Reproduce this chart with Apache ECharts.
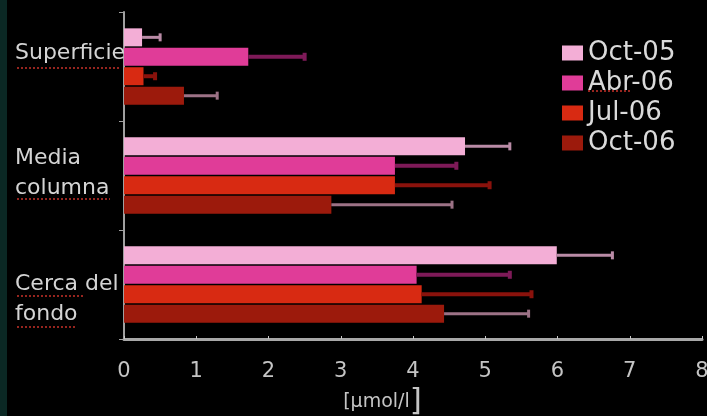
<!DOCTYPE html>
<html>
<head>
<meta charset="utf-8">
<script src="https://cdn.jsdelivr.net/npm/echarts@6/dist/echarts.min.js"></script>
<style>
html,body{margin:0;padding:0;background:#000;}
#chart{width:707px;height:416px;}
</style>
</head>
<body>
<div id="chart"></div>
<script>
// ---- data ----
const categories = ['Superficie', 'Media\ncolumna', 'Cerca del\nfondo'];
const seasons = ['Oct-05', 'Abr-06', 'Jul-06', 'Oct-06'];
const oct05 = [0.25, 4.72, 5.99];
const abr06 = [1.72, 3.75, 4.05];
const jul06 = [0.27, 3.75, 4.12];
const oct06 = [0.83, 2.87, 4.43];
const oct05Sd = [0.25, 0.62, 0.77];
const abr06Sd = [0.78, 0.85, 1.29];
const jul06Sd = [0.16, 1.31, 1.52];
const oct06Sd = [0.46, 1.67, 1.17];
const xTicks = ['0', '1', '2', '3', '4', '5', '6', '7', '8'];

const values = [oct05, abr06, jul06, oct06];
const sds = [oct05Sd, abr06Sd, jul06Sd, oct06Sd];
const barColors = ['#f3aed6', '#e03c98', '#d82a12', '#9c1a0c'];
const errColors = ['#b98ba6', '#7e1a58', '#8a120c', '#9c7286'];
const errWidths = [3, 4, 4, 3];
const BAR_W = 18, GAP = 0.08;
const FONT = '"DejaVu Sans", sans-serif';

const chart = echarts.init(document.getElementById('chart'), null, {renderer: 'canvas'});

const series = [];
seasons.forEach((s, k) => {
  series.push({
    name: s, type: 'bar', data: values[k],
    barWidth: BAR_W, barGap: (GAP * 100) + '%',
    itemStyle: {color: barColors[k]},
    z: 2
  });
});
seasons.forEach((s, k) => {
  const offset = (k - 1.5) * BAR_W * (1 + GAP);
  series.push({
    name: s + ' err', type: 'custom', z: 3,
    encode: {x: [0, 2], y: 1},
    data: values[k].map((v, i) => [v, i, v + sds[k][i]]),
    renderItem: function (params, api) {
      const p0 = api.coord([api.value(0), api.value(1)]);
      const p1 = api.coord([api.value(2), api.value(1)]);
      const y = p0[1] + offset;
      const st = {stroke: errColors[k], lineWidth: errWidths[k]};
      return {
        type: 'group', children: [
          {type: 'line', shape: {x1: p0[0], y1: y, x2: p1[0], y2: y}, style: st},
          {type: 'line', shape: {x1: p1[0], y1: y - 4, x2: p1[0], y2: y + 4}, style: st}
        ]
      };
    }
  });
});

const squiggles = [
  [17, 68, 121], [17, 199, 110], [17, 296, 84], [17, 327, 76], [588, 91, 632]
].map(([x1, y, x2]) => ({
  type: 'line', shape: {x1, y1: y, x2, y2: y}, z: 0,
  style: {stroke: '#c8322a', lineWidth: 1.5, lineDash: [2, 2]}
}));

// per-category label formatting (vertical nudges like the original text boxes)
function catLabel(v, i) {
  const lines = v.split('\n').map(l => '{n|' + l + '}');
  if (i === 0) return lines.join('\n') + '\n{g27| }';
  if (i === 1) return lines.join('\n') + '\n{g5| }';
  return '{n| }\n' + lines.join('\n');
}
const lblBase = {color: '#d4d4d4', fontSize: 22, fontFamily: FONT, lineHeight: 30, align: 'left'};

chart.setOption({
  backgroundColor: '#000',
  animation: false,
  grid: {left: 124, right: 5, top: 12, bottom: 77, containLabel: false, outerBoundsMode: 'none'},
  legend: {
    data: seasons, orient: 'vertical', left: 557, top: 35,
    itemWidth: 21, itemHeight: 15, itemGap: 4, icon: 'rect',
    textStyle: {color: '#dadada', fontSize: 26, fontFamily: FONT, lineHeight: 26, padding: [0, 0, 0, 0]}
  },
  xAxis: {
    type: 'value', min: 0, max: 8, interval: 1,
    splitLine: {show: false},
    axisLine: {show: true, lineStyle: {color: '#a8a8a8', width: 3}},
    axisTick: {show: true, inside: true, length: 3, lineStyle: {color: '#c8c8c8'}},
    axisLabel: {color: '#c4c4c4', fontSize: 21, fontFamily: FONT, margin: 22,
      formatter: (v) => xTicks[Math.round(v)]},
    name: '{a|[µmol/l}{b|]}', nameLocation: 'middle', nameGap: 26,
    nameTextStyle: {padding: [0, 61, 0, 0], verticalAlign: 'top',
      rich: {a: {color: '#c4c4c4', fontSize: 19, fontFamily: FONT, lineHeight: 34},
             b: {color: '#c4c4c4', fontSize: 31, fontFamily: FONT, lineHeight: 34}}}
  },
  yAxis: {
    type: 'category', inverse: true, z: 0,
    data: categories,
    axisLine: {show: true, lineStyle: {color: '#a0a0a0', width: 2}},
    axisTick: {show: true, length: 5, lineStyle: {color: '#a0a0a0'}},
    axisLabel: Object.assign({}, lblBase, {margin: 109, formatter: catLabel,
      rich: {
        n: Object.assign({}, lblBase),
        g27: Object.assign({}, lblBase, {lineHeight: 27, fontSize: 10}),
        g5: Object.assign({}, lblBase, {lineHeight: 5, fontSize: 4})
      }})
  },
  graphic: [
    {type: 'rect', shape: {x: 0, y: 0, width: 7, height: 416}, style: {fill: '#0b2824'}, z: 0}
  ].concat(squiggles),
  series: series
});
</script>
</body>
</html>
